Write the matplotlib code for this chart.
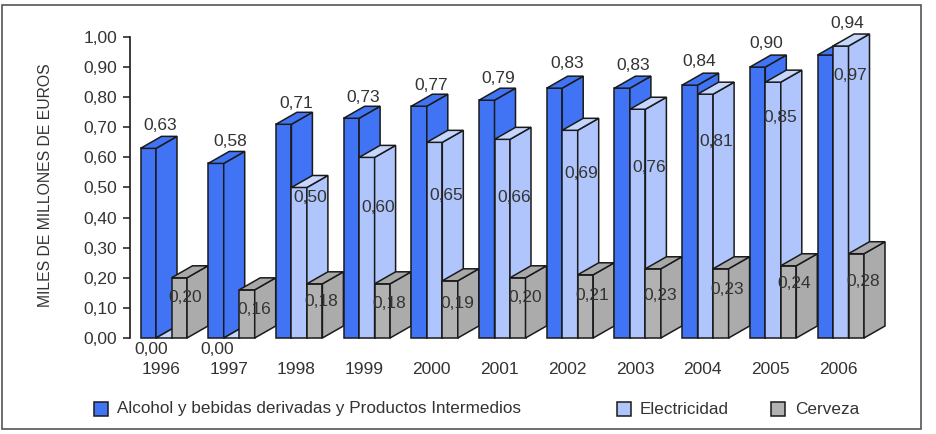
#!/usr/bin/env python3
"""Pseudo-3D grouped bars: excise revenue by product, 1996-2006."""

import matplotlib

matplotlib.use("Agg")

import matplotlib.pyplot as plt  # noqa: E402
from matplotlib.patches import Polygon, Rectangle  # noqa: E402

plt.rcParams["font.family"] = ["Liberation Sans", "DejaVu Sans"]

years = ["1996", "1997", "1998", "1999", "2000", "2001", "2002", "2003", "2004", "2005", "2006"]
alcohol = [0.63, 0.58, 0.71, 0.73, 0.77, 0.79, 0.83, 0.83, 0.84, 0.90, 0.94]
electricidad = [0.00, 0.00, 0.50, 0.60, 0.65, 0.66, 0.69, 0.76, 0.81, 0.85, 0.97]
cerveza = [0.20, 0.16, 0.18, 0.18, 0.19, 0.20, 0.21, 0.23, 0.23, 0.24, 0.28]

series_names = ["Alcohol y bebidas derivadas y Productos Intermedios", "Electricidad", "Cerveza"]
y_ticks = [0.0, 0.1, 0.2, 0.3, 0.4, 0.5, 0.6, 0.7, 0.8, 0.9, 1.0]

# label centres in reference pixels, the source chart places them by hand
alcohol_label_px = [(160, 125), (230, 142), (296, 104), (363, 97), (431, 85), (498, 79),
                    (567, 63), (633, 66), (699, 62), (766, 43), (847, 24)]
electricidad_label_px = [(151, 349), (217, 349), (310, 197), (378, 208), (446, 195), (514, 197),
                         (581, 173), (649, 167), (716, 142), (780, 118), (850, 75)]
cerveza_label_px = [(185, 297), (254, 309), (321, 301), (389, 303), (457, 304), (525, 298),
                    (592, 296), (660, 296), (727, 289), (794, 283), (863, 281)]

W, H = 936, 434
AX_LEFT, AX_TOP, AX_BOTTOM = 130, 37, 338
SLOT = 67.7
BAR_W = 15.5 / SLOT
DEPTH_X = 21 / SLOT
DEPTH_Y = 12 / (AX_BOTTOM - AX_TOP)
TEXT = "#333333"
EDGE = "#1a1a1a"
COLORS = ["#4174f4", "#afc5fb", "#b2b2b2"]
TOPS = ["#4174f4", "#c6d6fc", "#a8a8a8"]
SIDES = ["#4174f4", "#afc5fb", "#ababab"]


def px_text(fig, x, y, s, **kw):
    fig.text(x / W, 1 - y / H, s, ha="center", va="center", color=TEXT, **kw)


def draw_bar(ax, x, value, k):
    """One block: front face through ax.bar, top and side faces offset by the depth."""
    kw = dict(edgecolor=EDGE, linewidth=1.1, joinstyle="miter", clip_on=False)
    if value > 0:
        ax.bar(x, value, BAR_W, align="edge", color=COLORS[k], **kw)
    ax.add_patch(Polygon([(x + BAR_W, 0), (x + BAR_W + DEPTH_X, DEPTH_Y),
                          (x + BAR_W + DEPTH_X, value + DEPTH_Y), (x + BAR_W, value)],
                         facecolor=SIDES[k], **kw))
    ax.add_patch(Polygon([(x, value), (x + DEPTH_X, value + DEPTH_Y),
                          (x + BAR_W + DEPTH_X, value + DEPTH_Y), (x + BAR_W, value)],
                         facecolor=TOPS[k], **kw))


def main():
    fig = plt.figure(figsize=(W / 100, H / 100), dpi=100)
    n = len(years)
    ax = fig.add_axes([AX_LEFT / W, 1 - AX_BOTTOM / H, n * SLOT / W, (AX_BOTTOM - AX_TOP) / H])
    ax.set_xlim(0, n)
    ax.set_ylim(0, 1)
    ax.patch.set_alpha(0)

    # outer frame of the figure box
    fig.add_artist(Rectangle((2 / W, 1 - 429 / H), 919 / W, 424 / H, fill=False,
                             edgecolor="#555555", linewidth=1.2))

    for i in range(n):
        x0 = i + 10.5 / SLOT
        for k, values in enumerate([alcohol, electricidad, cerveza]):
            draw_bar(ax, x0 + k * BAR_W, values[i], k)

    for side in ("top", "right", "bottom"):
        ax.spines[side].set_visible(False)
    ax.spines["left"].set_linewidth(1.2)
    ax.spines["left"].set_color(EDGE)
    ax.set_yticks(y_ticks)
    ax.set_yticklabels([f"{v:.2f}".replace(".", ",") for v in y_ticks], fontsize=12.5, color=TEXT)
    ax.tick_params(axis="y", length=5, width=1.1, color=EDGE, pad=4)
    ax.set_xticks([])

    px_text(fig, 46, 185, "MILES DE MILLONES DE EUROS", fontsize=11.3, rotation=90)

    for i, year in enumerate(years):
        px_text(fig, 161 + i * SLOT, 370, year, fontsize=12.5)

    for values, positions in [(alcohol, alcohol_label_px), (electricidad, electricidad_label_px),
                              (cerveza, cerveza_label_px)]:
        for v, (px, py) in zip(values, positions):
            px_text(fig, px, py, f"{v:.2f}".replace(".", ","), fontsize=12.5)

    # legend drawn by hand to hit the reference spacing
    for name, color, box_x in zip(series_names, COLORS, [95, 345, 440]):
        pass
    for name, color, box_x, text_x in zip(series_names, COLORS, [94, 617, 771], [117, 640, 795]):
        fig.add_artist(Rectangle((box_x / W, 1 - 416 / H), 14 / W, 14 / H, facecolor=color,
                                 edgecolor=EDGE, linewidth=1.1))
        fig.text(text_x / W, 1 - 409 / H, name, ha="left", va="center", color=TEXT, fontsize=12.3)

    fig.savefig("out.png", dpi=100)
    plt.close(fig)


if __name__ == "__main__":
    main()
